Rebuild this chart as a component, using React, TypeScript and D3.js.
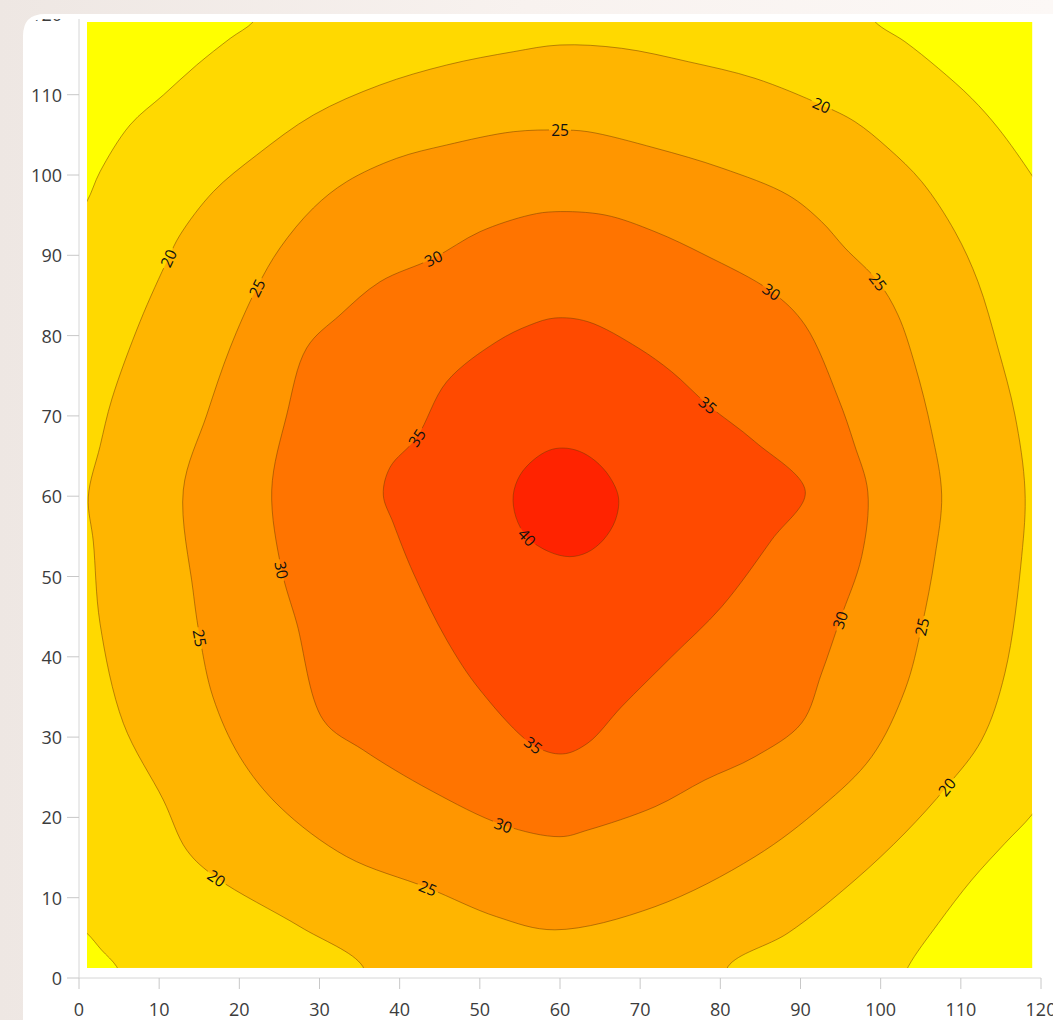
import React from "react";
import * as d3 from "d3";

type Pt = [number, number];

// ---- Axis ticks ----
const xTicks = [0, 10, 20, 30, 40, 50, 60, 70, 80, 90, 100, 110, 120];
const yTicks = [0, 10, 20, 30, 40, 50, 60, 70, 80, 90, 100, 110, 120];

// ---- Contour levels & band colours (low -> high) ----
const levels = [15, 20, 25, 30, 35, 40];
const bandColors = ["#ffff00", "#ffd900", "#ffb500", "#ff9600", "#ff7400", "#ff4a00", "#ff2300"];

// ---- Level 15 contour: four corner pieces (data units) ----
const c15TopLeft: Pt[] = [[-2, 92.5], [0.96, 96.67], [2.62, 100.41], [6.36, 106.23], [10.52, 109.96], [14.68, 113.7], [18.84, 117.0], [21.74, 119.09], [23.5, 122]];
const c15TopRight: Pt[] = [[97.5, 122], [99.29, 119.09], [103.03, 116.6], [107.19, 113.29], [111.35, 109.55], [114.67, 105.82], [118.84, 100.0], [121, 96.5]];
const c15BottomRight: Pt[] = [[121, 23.5], [118.84, 20.3], [115.5, 16.77], [111.35, 12.2], [107.19, 6.81], [103.44, 1.41], [102.3, -1.5]];
const c15BottomLeft: Pt[] = [[-1.5, 7.4], [0.96, 5.6], [2.8, 3.5], [4.7, 1.41], [5.9, -1.5]];

// ---- Level 20 contour (crosses the bottom edge) ----
const c20: Pt[] = [
  [35.9, -2.5], [35.42, 1.41], [27.57, 6.39], [17.18, 12.45], [13.43, 15.94], [10.52, 22.17], [5.53, 31.72],
  [2.62, 44.17], [1.79, 54.3], [1.16, 59.9], [2.62, 66.2], [4.1, 72.1], [7.61, 81.73], [11.14, 89.63],
  [12.6, 92.53], [16.75, 97.92], [22.17, 102.49], [29.23, 107.47], [37.55, 111.21], [45.87, 113.7],
  [54.17, 115.35], [60.0, 116.19], [67.69, 115.78], [76.0, 114.11], [84.32, 112.04], [92.64, 108.72],
  [96.79, 106.64], [100.91, 103.36], [105.12, 99.17], [109.27, 92.94], [112.14, 86.71], [114.63, 78.46],
  [116.75, 70.11], [118.0, 60.77], [117.59, 52.47], [115.5, 37.98], [112.6, 29.64], [108.23, 23.82],
  [103.03, 18.06], [96.79, 12.2], [88.44, 5.6], [80.95, 1.41], [80.4, -2.5], [58, -7],
];

// ---- Level 25 contour ----
const c25: Pt[] = [
  [13.01, 60.77], [14.22, 48.32], [15.09, 42.34], [16.71, 34.99], [20.08, 27.52], [25.07, 21.3],
  [33.39, 15.11], [43.53, 11.21], [52.1, 7.63], [59.37, 6.0], [71.85, 8.88], [84.32, 15.11],
  [92.64, 21.33], [98.88, 27.56], [103.03, 35.87], [105.12, 43.75], [106.77, 52.47], [107.61, 60.15],
  [106.36, 68.03], [104.28, 76.34], [102.16, 82.57], [99.7, 86.71], [95.55, 90.91], [92.64, 94.18],
  [88.44, 97.51], [80.17, 100.87], [71.85, 103.36], [63.49, 105.39], [60.0, 105.6], [54.17, 105.39],
  [45.87, 103.74], [39.63, 102.08], [33.39, 99.17], [29.23, 95.89], [25.07, 90.91], [22.17, 85.93],
  [18.84, 78.46], [15.93, 70.11],
];

// ---- Level 30 contour ----
const c30: Pt[] = [
  [24.04, 60.77], [25.28, 50.81], [27.16, 44.21], [30.47, 32.13], [35.46, 28.39], [43.78, 23.41],
  [52.93, 19.05], [60.0, 17.6], [63.49, 18.43], [71.85, 21.33], [78.08, 24.66], [84.32, 27.56],
  [90.15, 31.76], [92.64, 37.98], [94.92, 44.58], [97.63, 52.47], [98.4, 60.5], [96.7, 66.5],
  [94.71, 72.19], [90.56, 81.32], [86.4, 85.47], [78.08, 90.04], [71.85, 92.94], [65.61, 95.02],
  [59.37, 95.43], [56.26, 95.02], [50.02, 92.94], [44.19, 89.63], [37.55, 86.71], [32.56, 82.57],
  [28.4, 78.46], [25.91, 70.11],
];

// ---- Level 35 contour ----
const c35: Pt[] = [
  [37.96, 60.15], [39.2, 56.66], [41.7, 50.44], [45.87, 42.09], [50.02, 35.87], [56.67, 29.02],
  [60.3, 27.9], [63.49, 29.27], [67.69, 33.79], [73.93, 40.01], [80.17, 46.24], [86.4, 54.55],
  [90.6, 60.6], [84.32, 66.79], [78.46, 71.36], [73.93, 75.5], [69.77, 78.46], [63.49, 81.73],
  [59.37, 82.19], [56.26, 81.32], [52.1, 79.24], [45.87, 74.26], [42.12, 67.3], [38.8, 63.6],
];

// ---- Level 40 contour ----
const c40: Pt[] = [
  [54.17, 60.15], [55.0, 62.6], [56.67, 64.5], [58.6, 65.7], [60.39, 66.0], [62.4, 65.6], [64.4, 64.4],
  [66.2, 62.4], [67.3, 59.8], [66.9, 57.0], [65.4, 54.55], [63.4, 53.0], [61.2, 52.47], [58.6, 53.1],
  [55.9, 54.9], [54.5, 57.4],
];

// ---- Contour labels: level, x, y ----
const labelLevels = [20, 20, 20, 20, 25, 25, 25, 25, 25, 25, 30, 30, 30, 30, 30, 35, 35, 35, 40];
const labelXs = [11.14, 92.64, 17.18, 108.23, 22.17, 60.0, 99.7, 105.12, 43.53, 15.09, 44.19, 86.4, 25.28, 94.92, 52.93, 42.12, 78.46, 56.67, 55.9];
const labelYs = [89.63, 108.72, 12.45, 23.82, 85.93, 105.6, 86.71, 43.75, 11.21, 42.34, 89.63, 85.47, 50.81, 44.58, 19.05, 67.3, 71.36, 29.02, 54.9];

const W = 1053;
const H = 1020;

export default function App() {
  const x = d3.scaleLinear().domain([0, 120]).range([79, 1041]);
  const y = d3.scaleLinear().domain([0, 120]).range([978, 14.4]);

  const closedLine = d3
    .line<Pt>()
    .x((d) => x(d[0]))
    .y((d) => y(d[1]))
    .curve(d3.curveCatmullRomClosed.alpha(0.5));
  const openLine = d3
    .line<Pt>()
    .x((d) => x(d[0]))
    .y((d) => y(d[1]))
    .curve(d3.curveCatmullRom.alpha(0.5));

  const corners: { pts: Pt[]; corner: Pt }[] = [
    { pts: c15TopLeft, corner: [-6, 126] },
    { pts: c15TopRight, corner: [126, 126] },
    { pts: c15BottomRight, corner: [126, -6] },
    { pts: c15BottomLeft, corner: [-6, -6] },
  ];

  const closedContours: { level: number; pts: Pt[] }[] = [
    { level: 20, pts: c20 },
    { level: 25, pts: c25 },
    { level: 30, pts: c30 },
    { level: 35, pts: c35 },
    { level: 40, pts: c40 },
  ];

  const plotX0 = x(1);
  const plotX1 = x(118.9);
  const plotY0 = y(119.05);
  const plotY1 = y(1.25);

  // label placement: rotate along the local tangent of the contour
  const labels = labelLevels.map((lv, i) => {
    const c = closedContours.find((cc) => cc.level === lv)!;
    const pts = c.pts;
    const lx = labelXs[i];
    const ly = labelYs[i];
    let best = 0;
    let bd = Infinity;
    pts.forEach((p, j) => {
      const d = (x(p[0]) - x(lx)) ** 2 + (y(p[1]) - y(ly)) ** 2;
      if (d < bd) {
        bd = d;
        best = j;
      }
    });
    const n = pts.length;
    const prev = pts[(best - 1 + n) % n];
    const next = pts[(best + 1) % n];
    let ang = (Math.atan2(y(next[1]) - y(prev[1]), x(next[0]) - x(prev[0])) * 180) / Math.PI;
    if (ang > 90) ang -= 180;
    if (ang < -90) ang += 180;
    return { text: String(lv), px: x(lx), py: y(ly), ang };
  });

  const fontAxis = "'Open Sans', 'DejaVu Sans', sans-serif";
  const cardR = 22;
  const cardPath = `M23,${14 + cardR} Q23,14 ${23 + cardR},14 L${W},14 L${W},${H} L23,${H} Z`;
  const axisClip = `M23,${19 + cardR} Q23,19 ${23 + cardR},19 L${W},19 L${W},${H} L23,${H} Z`;

  return (
    <svg width={W} height={H} style={{ position: "absolute", left: 0, top: 0 }}>
      <defs>
        <linearGradient id="bg" x1="0" y1="0" x2="1" y2="0">
          <stop offset="0" stopColor="#eee7e3" />
          <stop offset="0.5" stopColor="#f8f2ef" />
          <stop offset="1" stopColor="#fcf8f6" />
        </linearGradient>
        <clipPath id="plotClip">
          <rect x={plotX0} y={plotY0} width={plotX1 - plotX0} height={plotY1 - plotY0} />
        </clipPath>
        <clipPath id="cardClip">
          <path d={axisClip} />
        </clipPath>
        <mask id="labelGaps" maskUnits="userSpaceOnUse" x={0} y={0} width={W} height={H}>
          <rect x={0} y={0} width={W} height={H} fill="white" />
          {labels.map((l, i) => (
            <rect
              key={i}
              x={-11}
              y={-7}
              width={22}
              height={14}
              fill="black"
              transform={`translate(${l.px},${l.py}) rotate(${l.ang})`}
            />
          ))}
        </mask>
      </defs>

      <rect x={0} y={0} width={W} height={H} fill="url(#bg)" />
      <path d={cardPath} fill="#ffffff" />

      {/* Filled contour bands */}
      <g clipPath="url(#plotClip)">
        <rect x={plotX0} y={plotY0} width={plotX1 - plotX0} height={plotY1 - plotY0} fill={bandColors[1]} />
        {corners.map((c, i) => (
          <path key={`cf${i}`} d={`${openLine(c.pts)}L${x(c.corner[0])},${y(c.corner[1])}Z`} fill={bandColors[0]} />
        ))}
        {closedContours.map((c) => (
          <path key={`f${c.level}`} d={closedLine(c.pts) || ""} fill={bandColors[levels.indexOf(c.level) + 1]} />
        ))}
        <g mask="url(#labelGaps)" fill="none" stroke="rgba(110,60,0,0.55)" strokeWidth={0.9}>
          {corners.map((c, i) => (
            <path key={`cs${i}`} d={openLine(c.pts) || ""} />
          ))}
          {closedContours.map((c) => (
            <path key={`s${c.level}`} d={closedLine(c.pts) || ""} />
          ))}
        </g>
        {labels.map((l, i) => (
          <text
            key={`l${i}`}
            transform={`translate(${l.px},${l.py}) rotate(${l.ang})`}
            textAnchor="middle"
            dominantBaseline="central"
            fontFamily={fontAxis}
            fontSize={15.5}
            fill="#111"
          >
            {l.text}
          </text>
        ))}
      </g>

      {/* Axes */}
      <g clipPath="url(#cardClip)">
        <line x1={x(0)} y1={y(120)} x2={x(0)} y2={y(0)} stroke="#d6d6d6" strokeWidth={1} />
        <line x1={x(0)} y1={y(0)} x2={x(120)} y2={y(0)} stroke="#d6d6d6" strokeWidth={1} />
        {yTicks.map((t) => (
          <g key={`yt${t}`}>
            <line x1={67} x2={x(0)} y1={y(t)} y2={y(t)} stroke="#c8c8c8" strokeWidth={1} />
            <text
              x={62}
              y={y(t)}
              textAnchor="end"
              dominantBaseline="central"
              fontFamily={fontAxis}
              fontSize={18}
              fill="#3c3c3c"
            >
              {t}
            </text>
          </g>
        ))}
        {xTicks.map((t) => (
          <g key={`xt${t}`}>
            <line x1={x(t)} x2={x(t)} y1={y(0)} y2={y(0) + 11} stroke="#c8c8c8" strokeWidth={1} />
            <text
              x={x(t)}
              y={1016}
              textAnchor="middle"
              fontFamily={fontAxis}
              fontSize={18}
              fill="#3c3c3c"
            >
              {t}
            </text>
          </g>
        ))}
      </g>
    </svg>
  );
}
